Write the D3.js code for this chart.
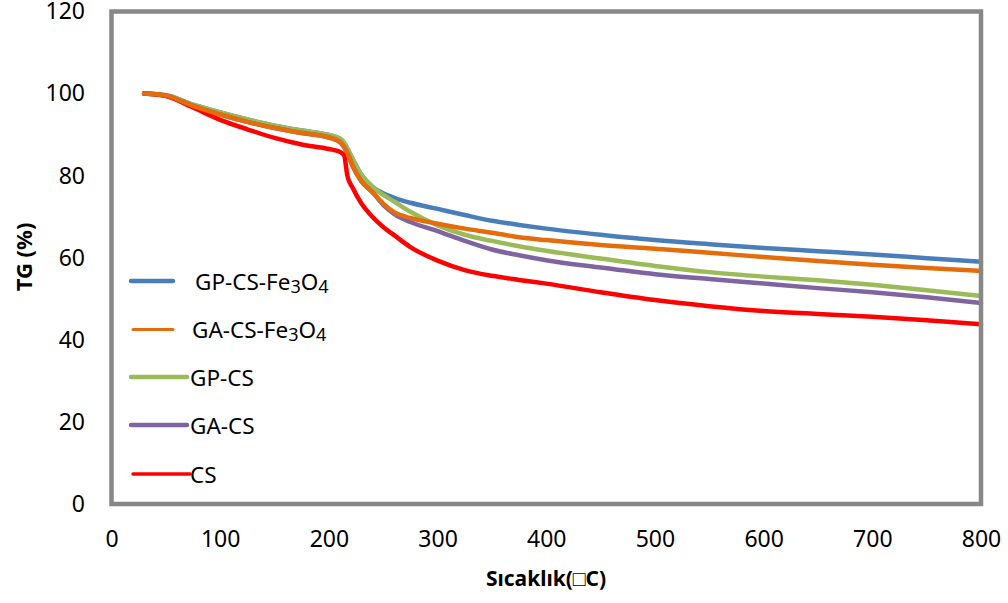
<!DOCTYPE html>
<html>
<head>
<meta charset="utf-8">
<script src="https://cdn.jsdelivr.net/npm/d3@7"></script>
<style>
  html, body { margin: 0; padding: 0; background: #ffffff; }
  svg { display: block; }
</style>
</head>
<body>
<svg id="chart" width="1008" height="603"></svg>
<script>
// Temperature (°C) at which each TG reading was taken
const temps = [30, 50, 75, 100, 125, 150, 175, 200, 210, 214, 217, 222, 230, 240, 250, 260, 275, 300, 325, 350, 375, 400, 450, 500, 550, 600, 650, 700, 750, 800];

// Remaining mass (%) for each sample
const gpCsFe3o4 = [100, 99.6, 97.3, 95.4, 93.7, 92.2, 91.0, 89.9, 89.0, 88.0, 86.6, 84.0, 80.2, 77.3, 75.7, 74.6, 73.4, 71.9, 70.4, 69.0, 68.0, 67.1, 65.6, 64.3, 63.3, 62.4, 61.6, 60.8, 59.9, 59.0];
const gaCsFe3o4 = [100, 99.5, 97.0, 94.9, 93.1, 91.6, 90.4, 89.3, 88.2, 87.0, 85.5, 82.3, 78.6, 76.0, 73.2, 71.1, 69.7, 68.3, 67.1, 66.1, 65.0, 64.3, 63.1, 62.2, 61.2, 60.2, 59.2, 58.3, 57.5, 56.8];
const gpCs      = [100, 99.6, 97.3, 95.4, 93.7, 92.2, 91.0, 89.9, 89.0, 88.0, 86.6, 84.0, 80.2, 77.3, 75.3, 73.7, 71.2, 67.9, 65.6, 64.1, 62.8, 61.7, 59.8, 58.0, 56.5, 55.4, 54.5, 53.4, 52.1, 50.7];
const gaCs      = [100, 99.5, 97.0, 94.9, 93.1, 91.6, 90.4, 89.3, 88.2, 87.0, 85.5, 82.3, 78.6, 76.0, 72.9, 70.7, 68.7, 66.5, 64.1, 62.0, 60.6, 59.4, 57.6, 56.0, 54.8, 53.7, 52.6, 51.6, 50.4, 49.0];
const cs        = [100, 99.4, 96.6, 93.6, 91.3, 89.2, 87.6, 86.5, 85.8, 85.0, 80.0, 77.0, 73.2, 70.0, 67.5, 65.5, 62.6, 59.3, 57.0, 55.6, 54.6, 53.7, 51.6, 49.7, 48.2, 47.0, 46.3, 45.6, 44.8, 43.8];

const xTicks = [0, 100, 200, 300, 400, 500, 600, 700, 800];
const yTicks = [0, 20, 40, 60, 80, 100, 120];

// Series in legend order
const series = [
  { name: ["GP-CS-Fe", "3", "O", "4"], values: gpCsFe3o4, color: "#4a7ebb", legendWidth: 4.5, legendStart: 131, legendEnd: 173, textX: 195 },
  { name: ["GA-CS-Fe", "3", "O", "4"], values: gaCsFe3o4, color: "#e46c0a", legendWidth: 3,   legendStart: 133, legendEnd: 173, textX: 192 },
  { name: ["GP-CS"],                   values: gpCs,      color: "#9bbb59", legendWidth: 4.5, legendStart: 131, legendEnd: 187, textX: 190 },
  { name: ["GA-CS"],                   values: gaCs,      color: "#8064a2", legendWidth: 4.5, legendStart: 131, legendEnd: 187, textX: 190 },
  { name: ["CS"],                      values: cs,        color: "#ff0000", legendWidth: 3.5, legendStart: 133, legendEnd: 190, textX: 190 }
];
// Stacking order of the curves (last one on top)
const drawOrder = [0, 2, 3, 4, 1];

const svg = d3.select("#chart");
const plotLeft = 111.5, plotRight = 981, plotTop = 11.5, plotBottom = 504;

const x = d3.scaleLinear().domain([0, 800]).range([plotLeft, plotRight]);
const y = d3.scaleLinear().domain([0, 120]).range([plotBottom, plotTop]);

const tickFont = "'Noto Sans', sans-serif";

// Y axis labels
const yAxis = svg.append("g")
  .attr("transform", `translate(${plotLeft},0)`)
  .call(d3.axisLeft(y).tickValues(yTicks).tickSize(0).tickPadding(26.5).tickFormat(d3.format("d")));
yAxis.select(".domain").remove();
yAxis.selectAll("text").attr("font-family", tickFont).attr("font-size", 23).attr("fill", "#000");

// X axis labels
const xAxis = svg.append("g")
  .attr("transform", `translate(0,${plotBottom})`)
  .call(d3.axisBottom(x).tickValues(xTicks).tickSize(0).tickPadding(27).tickFormat(d3.format("d")));
xAxis.select(".domain").remove();
xAxis.selectAll("text").attr("font-family", tickFont).attr("font-size", 23).attr("fill", "#000");

// Curves
const line = d3.line()
  .x((d, i) => x(temps[i]))
  .y(d => y(d))
  .curve(d3.curveMonotoneX);

svg.append("g")
  .selectAll("path")
  .data(drawOrder.map(i => series[i]))
  .join("path")
  .attr("d", d => line(d.values))
  .attr("fill", "none")
  .attr("stroke", d => d.color)
  .attr("stroke-width", 4.5)
  .attr("stroke-linejoin", "round")
  .attr("stroke-linecap", "round");

// Plot frame
svg.append("rect")
  .attr("x", plotLeft).attr("y", plotTop)
  .attr("width", plotRight - plotLeft).attr("height", plotBottom - plotTop)
  .attr("fill", "none")
  .attr("stroke", "#878787")
  .attr("stroke-width", 4.5);

// Legend
const legendRows = [281, 329.5, 377, 425, 474];
const legend = svg.append("g");
series.forEach((s, i) => {
  const yy = legendRows[i];
  legend.append("line")
    .attr("x1", s.legendStart).attr("x2", s.legendEnd)
    .attr("y1", yy).attr("y2", yy)
    .attr("stroke", s.color)
    .attr("stroke-width", s.legendWidth)
    .attr("stroke-linecap", "round");
  const t = legend.append("text")
    .attr("x", s.textX).attr("y", yy + 8.5)
    .attr("font-family", tickFont)
    .attr("font-size", 22.5)
    .attr("fill", "#000");
  s.name.forEach((part, k) => {
    const ts = t.append("tspan").text(part);
    if (k === 1 || k === 3) ts.attr("font-size", 18).attr("dy", 3);
    if (k === 2) ts.attr("dy", -3);
  });
});

// Axis titles
svg.append("text")
  .attr("transform", "translate(32,257) rotate(-90)")
  .attr("text-anchor", "middle")
  .attr("font-family", tickFont)
  .attr("font-weight", "bold")
  .attr("font-size", 22)
  .attr("fill", "#000")
  .text("TG (%)");

svg.append("text")
  .attr("x", 546).attr("y", 585.5)
  .attr("text-anchor", "middle")
  .attr("font-family", tickFont)
  .attr("font-weight", "bold")
  .attr("font-size", 21)
  .attr("fill", "#000")
  .text("Sıcaklık(\u25A1C)");
</script>
</body>
</html>
